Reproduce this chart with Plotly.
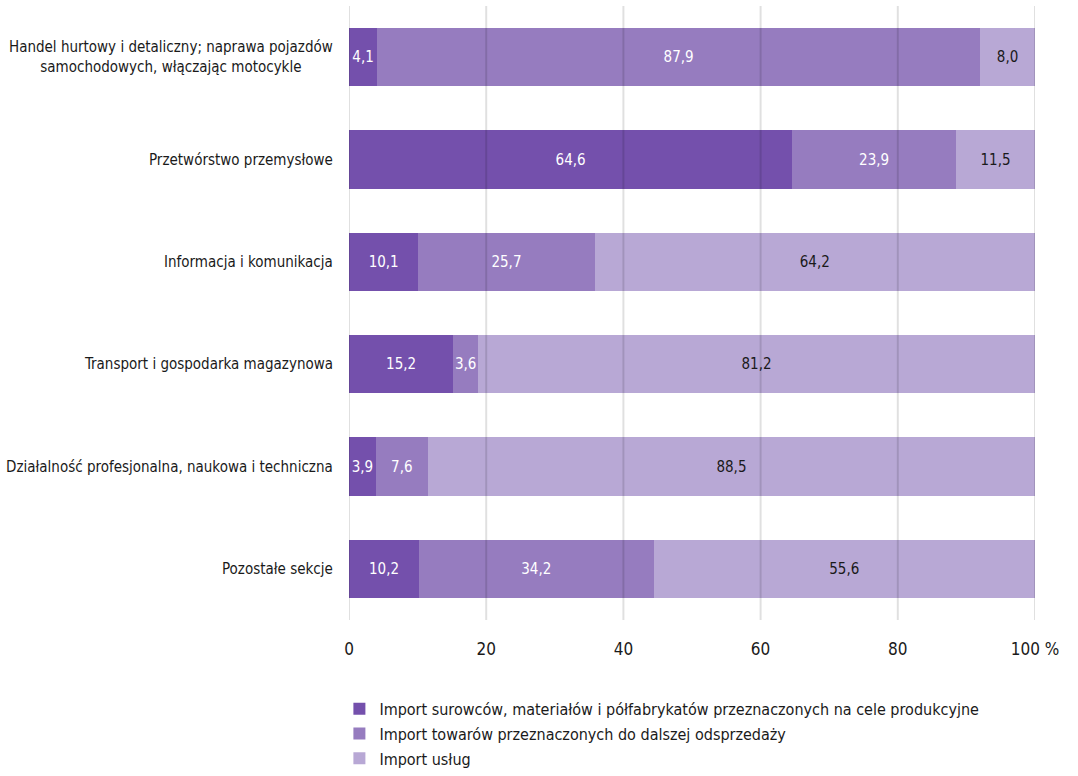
import plotly.graph_objects as go

# sections (top to bottom)
categories = [
    "Handel hurtowy i detaliczny; naprawa pojazdów<br>samochodowych, włączając motocykle",
    "Przetwórstwo przemysłowe",
    "Informacja i komunikacja",
    "Transport i gospodarka magazynowa",
    "Działalność profesjonalna, naukowa i techniczna",
    "Pozostałe sekcje",
]

series_names = [
    "Import surowców, materiałów i półfabrykatów przeznaczonych na cele produkcyjne",
    "Import towarów przeznaczonych do dalszej odsprzedaży",
    "Import usług",
]

raw_materials = [4.1, 64.6, 10.1, 15.2, 3.9, 10.2]
goods_resale = [87.9, 23.9, 25.7, 3.6, 7.6, 34.2]
services = [8.0, 11.5, 64.2, 81.2, 88.5, 55.6]

tick_vals = [0, 20, 40, 60, 80, 100]
tick_text = ["0", "20", "40", "60", "80", "100 %"]

colors = ["#7450ac", "#967cbf", "#b8a8d5"]
text_colors = ["#ffffff", "#ffffff", "#1a1a1a"]
FONT = "Liberation Sans Narrow, DejaVu Sans Condensed, Roboto Condensed, sans-serif"

fig = go.Figure()
for i, (name, vals, col, tcol) in enumerate(zip(series_names, [raw_materials, goods_resale, services], colors, text_colors)):
    fig.add_trace(go.Bar(
        y=categories,
        x=vals,
        name=name,
        legendgroup=f"g{i}",
        orientation="h",
        width=0.57,
        marker=dict(color=col, line=dict(width=0)),
        text=[f"{v:.1f}".replace(".", ",") for v in vals],
        textposition="inside",
        insidetextanchor="middle",
        textangle=0,
        constraintext="none",
        textfont=dict(color=tcol, size=15, family=FONT),
        hovertemplate="%{y}: %{x}<extra></extra>",
    ))

# gridlines drawn over the bars, like the original
for v in tick_vals:
    fig.add_shape(type="line", xref="x", yref="paper", x0=v, x1=v, y0=0, y1=1.0,
                  line=dict(color="rgba(0,0,0,0.12)", width=2), layer="above")

# category labels, centred multi-line
for cat in categories:
    fig.add_annotation(x=0, xref="paper", y=cat, yref="y", text=cat, showarrow=False,
                       xanchor="right", xshift=-14, align="center",
                       font=dict(size=15, color="#1a1a1a", family=FONT))

fig.update_layout(
    width=1078, height=776,
    barmode="stack",
    paper_bgcolor="white", plot_bgcolor="white",
    margin=dict(l=349, r=43, t=6, b=156, autoexpand=False),
    font=dict(family=FONT, color="#1a1a1a", size=15),
    uniformtext=dict(minsize=10, mode="show"),
    legend=dict(
        orientation="v", traceorder="grouped", tracegroupgap=1,
        x=-0.014, xanchor="left", y=-0.117, yanchor="top",
        font=dict(size=16, family=FONT), itemwidth=30,
    ),
    bargap=0.43,
)
fig.update_xaxes(range=[0, 100], tickvals=tick_vals, ticktext=tick_text, showgrid=False,
                 zeroline=False, ticks="outside", ticklen=14, tickcolor="rgba(0,0,0,0)",
                 tickfont=dict(size=17, family=FONT, color="#1a1a1a"), fixedrange=True)
fig.update_yaxes(autorange="reversed", showticklabels=False, showgrid=False, zeroline=False)

fig.write_html("out.html", config={"displayModeBar": False},
               post_script="document.body.style.margin='0px';")
